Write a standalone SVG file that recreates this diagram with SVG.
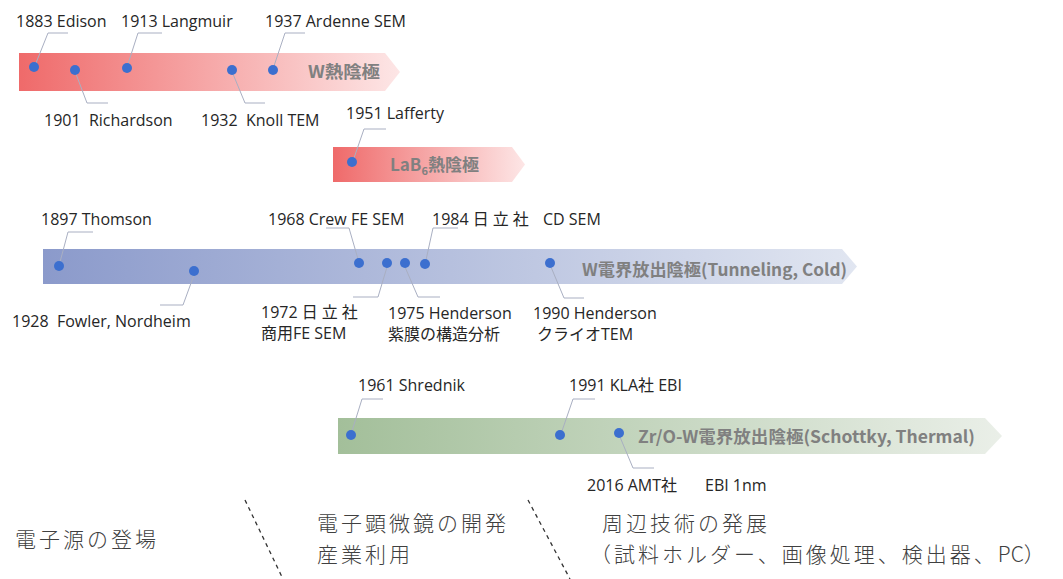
<svg xmlns="http://www.w3.org/2000/svg" width="1063" height="579" viewBox="0 0 1063 579">
<style>
.t{font-family:"Open Sans","Noto Sans CJK JP",sans-serif;font-size:16px;fill:#262626;white-space:pre}
.big{font-family:"Noto Sans CJK JP","Open Sans",sans-serif;font-size:21px;font-weight:300;letter-spacing:3px;fill:#404040;white-space:pre}
.band{font-family:"Noto Sans CJK JP","Liberation Sans",sans-serif;font-size:17px;font-weight:bold;fill:#808080}
.dot{fill:#3c6fcf}
.lead{fill:none;stroke:#a9afc2;stroke-width:1}
.div{stroke:#333;stroke-width:1.3;stroke-dasharray:4 4}
</style>
<defs>
<linearGradient id="gRed" x1="0" y1="0" x2="1" y2="0">
<stop offset="0" stop-color="#ef6a6a"/><stop offset="1" stop-color="#fde6e6"/>
</linearGradient>
<linearGradient id="gBlue" x1="0" y1="0" x2="1" y2="0">
<stop offset="0" stop-color="#8b9acb"/><stop offset="1" stop-color="#e1e6f1"/>
</linearGradient>
<linearGradient id="gGreen" x1="0" y1="0" x2="1" y2="0">
<stop offset="0" stop-color="#a3bf9a"/><stop offset="1" stop-color="#eaefe8"/>
</linearGradient>
</defs>
<rect width="1063" height="579" fill="#fff"/>

<g id="band-w-thermal">
<polygon points="19,53 385,53 400,72 385,91 19,91" fill="url(#gRed)"/>
<text class="band" x="308" y="78" textLength="72" lengthAdjust="spacingAndGlyphs">W熱陰極</text>
</g>
<g id="band-lab6">
<polygon points="333,147 512,147 525,164.5 512,182 333,182" fill="url(#gRed)"/>
<text class="band" x="390" y="171">LaB<tspan font-size="11" dy="4">6</tspan><tspan dy="-4">熱陰極</tspan></text>
</g>
<g id="band-w-fe">
<polygon points="43,249 842,249 857,266.5 842,284 43,284" fill="url(#gBlue)"/>
<text class="band" x="582" y="276" textLength="265" lengthAdjust="spacingAndGlyphs">W電界放出陰極(Tunneling, Cold)</text>
</g>
<g id="band-zro">
<polygon points="338,418 985,418 1002,436 985,454 338,454" fill="url(#gGreen)"/>
<text class="band" x="638" y="443" textLength="337" lengthAdjust="spacingAndGlyphs">Zr/O-W電界放出陰極(Schottky, Thermal)</text>
</g>

<g id="connectors">
<polyline class="lead" points="36,63 48,33 68,33"/>
<polyline class="lead" points="128,64 138,33 162,33"/>
<polyline class="lead" points="274,66 285,33 305,33"/>
<polyline class="lead" points="76,74 87,103 108,103"/>
<polyline class="lead" points="233,74 245,103 265,103"/>
<polyline class="lead" points="354,158 364,129 386,129"/>
<polyline class="lead" points="60,262 68,232 93,232"/>
<polyline class="lead" points="194,275 183,305 160,305"/>
<polyline class="lead" points="358,259 349,228 326,228"/>
<polyline class="lead" points="387,267 378,297 353,297"/>
<polyline class="lead" points="405,267 418,297 440,297"/>
<polyline class="lead" points="426,260 433,228 458,228"/>
<polyline class="lead" points="551,267 564,298 584,298"/>
<polyline class="lead" points="352,431 362,399 383,399"/>
<polyline class="lead" points="562,431 573,399 595,399"/>
<polyline class="lead" points="620,437 633,468 654,468"/>
</g>

<g id="e1883"><circle class="dot" cx="34" cy="67" r="5"/><text class="t" x="16" y="27">1883 Edison</text></g>
<g id="e1901"><circle class="dot" cx="75" cy="70" r="5"/><text class="t" x="44" y="126">1901  Richardson</text></g>
<g id="e1913"><circle class="dot" cx="127" cy="68" r="5"/><text class="t" x="121" y="27">1913 Langmuir</text></g>
<g id="e1932"><circle class="dot" cx="232" cy="70" r="5"/><text class="t" x="201" y="126">1932  Knoll TEM</text></g>
<g id="e1937"><circle class="dot" cx="273" cy="70" r="5"/><text class="t" x="265" y="27">1937 Ardenne SEM</text></g>
<g id="e1951"><circle class="dot" cx="352" cy="162" r="5"/><text class="t" x="346" y="119">1951 Lafferty</text></g>

<g id="e1897"><circle class="dot" cx="59" cy="266" r="5"/><text class="t" x="41" y="225">1897 Thomson</text></g>
<g id="e1928"><circle class="dot" cx="194" cy="271" r="5"/><text class="t" x="12" y="327">1928  Fowler, Nordheim</text></g>
<g id="e1968"><circle class="dot" cx="359" cy="263" r="5"/><text class="t" x="268" y="225">1968 Crew FE SEM</text></g>
<g id="e1972"><circle class="dot" cx="387" cy="263" r="5"/><text class="t" x="261" y="318">1972 <tspan letter-spacing="4">日立社</tspan></text><text class="t" x="261" y="339">商用FE SEM</text></g>
<g id="e1975"><circle class="dot" cx="405" cy="263" r="5"/><text class="t" x="388" y="319">1975 Henderson</text><text class="t" x="388" y="340">紫膜の構造分析</text></g>
<g id="e1984"><circle class="dot" cx="425" cy="264" r="5"/><text class="t" x="432" y="225">1984 <tspan letter-spacing="4">日立社</tspan></text><text class="t" x="543" y="225">CD SEM</text></g>
<g id="e1990"><circle class="dot" cx="550" cy="263" r="5"/><text class="t" x="533" y="319">1990 Henderson</text><text class="t" x="537" y="340">クライオTEM</text></g>

<g id="e1961"><circle class="dot" cx="351" cy="435" r="5"/><text class="t" x="358" y="391">1961 Shrednik</text></g>
<g id="e1991"><circle class="dot" cx="560" cy="435" r="5"/><text class="t" x="569" y="391">1991 KLA社 EBI</text></g>
<g id="e2016"><circle class="dot" cx="619" cy="433" r="5"/><text class="t" x="587" y="491">2016 AMT社</text><text class="t" x="705" y="491">EBI 1nm</text></g>

<g id="eras">
<line class="div" x1="245" y1="500" x2="283" y2="579"/>
<line class="div" x1="528" y1="500" x2="570" y2="579"/>
<text class="big" x="15" y="547">電子源の登場</text>
<text class="big" x="317" y="531">電子顕微鏡の開発</text>
<text class="big" x="317" y="562">産業利用</text>
<text class="big" x="602" y="531">周辺技術の発展</text>
<text class="big" x="590" y="562">（試料ホルダー、画像処理、検出器、<tspan letter-spacing="0">PC</tspan>）</text>
</g>
</svg>
